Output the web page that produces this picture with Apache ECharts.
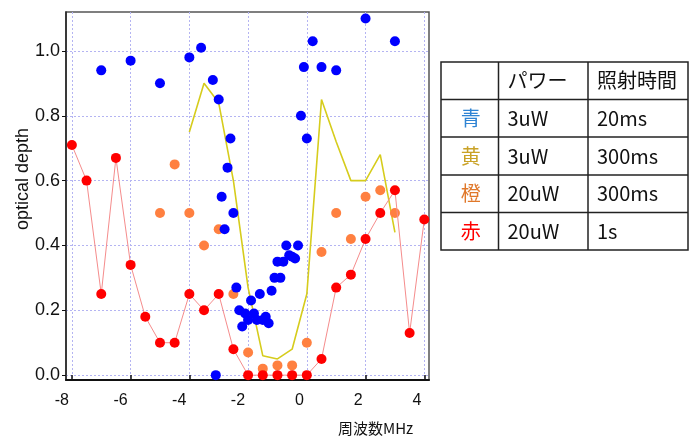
<!DOCTYPE html>
<html>
<head>
<meta charset="utf-8">
<script src="https://cdn.jsdelivr.net/npm/echarts@6/dist/echarts.min.js"></script>
<style>
  html, body { margin: 0; padding: 0; background: #fff; }
  #chart { width: 689px; height: 436px; }
</style>
</head>
<body>
<div id="chart"></div>
<script>
// Frequency offset (MHz) and optical depth for each measurement condition
const blueFreq = [-7.0, -6.0, -5.0, -4.0, -3.6, -3.2, -3.0, -2.9, -2.7, -2.6, -2.5, -2.8, -2.4, -2.3, -2.2, -2.1, -2.0, -1.9, -1.8, -1.7, -1.6, -1.5, -1.4, -1.3, -1.2, -1.1, -1.0, -0.9, -0.8, -0.7, -0.6, -0.5, -0.4, -0.3, -0.2, -0.1, 0.0, 0.2, 0.5, 1.0, 2.0, 3.0, -3.1];
const blueOD   = [0.94, 0.97, 0.90, 0.98, 1.01, 0.91, 0.85, 0.55, 0.64, 0.73, 0.50, 0.45, 0.27, 0.20, 0.15, 0.19, 0.17, 0.23, 0.19, 0.17, 0.25, 0.17, 0.18, 0.16, 0.26, 0.30, 0.35, 0.30, 0.35, 0.40, 0.37, 0.365, 0.36, 0.40, 0.80, 0.95, 0.73, 1.03, 0.95, 0.94, 1.10, 1.03, 0.0];

const yellowFreq = [-4.0, -3.5, -3.0, -2.5, -2.0, -1.5, -1.0, -0.5, 0.0, 0.5, 1.0, 1.5, 2.0, 2.5, 3.0];
const yellowOD   = [0.75, 0.90, 0.84, 0.60, 0.27, 0.06, 0.05, 0.08, 0.25, 0.85, 0.72, 0.60, 0.60, 0.68, 0.44];

const orangeFreq = [-5.0, -4.5, -4.0, -3.5, -3.0, -2.5, -2.0, -1.5, -1.0, -0.5, 0.0, 0.5, 1.0, 1.5, 2.0, 2.5, 3.0];
const orangeOD   = [0.50, 0.65, 0.50, 0.40, 0.45, 0.25, 0.07, 0.02, 0.03, 0.03, 0.10, 0.38, 0.50, 0.42, 0.55, 0.57, 0.50];

const redFreq = [-8.0, -7.5, -7.0, -6.5, -6.0, -5.5, -5.0, -4.5, -4.0, -3.5, -3.0, -2.5, -2.0, -1.5, -1.0, -0.5, 0.0, 0.5, 1.0, 1.5, 2.0, 2.5, 3.0, 3.5, 4.0];
const redOD   = [0.71, 0.60, 0.25, 0.67, 0.34, 0.18, 0.10, 0.10, 0.25, 0.20, 0.25, 0.08, 0.0, 0.0, 0.0, 0.0, 0.0, 0.05, 0.27, 0.31, 0.42, 0.50, 0.57, 0.13, 0.48];

// Axis ticks
const xTicks = [-8, -6, -4, -2, 0, 2, 4];
const yTicks = [0.0, 0.2, 0.4, 0.6, 0.8, 1.0];

// Condition table
const tableHeader = ['', 'パワー', '照射時間'];
const condNames  = ['青', '黄', '橙', '赤'];
const condColors = ['#2f84d4', '#c9a227', '#e0782a', '#ff0000'];
const condPower  = ['3uW', '3uW', '20uW', '20uW'];
const condTime   = ['20ms', '300ms', '300ms', '1s'];

const zip = (xs, ys) => xs.map((x, i) => [x, ys[i]]);

// Table geometry
const colX = [441, 498.5, 588, 688];
const rowY = [62, 99.5, 137, 175, 212.5, 250];
const tableFont = '"Noto Sans CJK JP", "Noto Sans", sans-serif';

const graphics = [];
graphics.push({
  type: 'rect', shape: { x: colX[0], y: rowY[0], width: colX[3] - colX[0], height: rowY[5] - rowY[0] },
  style: { fill: '#fff', stroke: '#222', lineWidth: 1.5 }, z: 10
});
for (let i = 1; i < rowY.length - 1; i++) {
  graphics.push({ type: 'line', shape: { x1: colX[0], y1: rowY[i], x2: colX[3], y2: rowY[i] },
    style: { stroke: '#222', lineWidth: 1.5 }, z: 11 });
}
for (let j = 1; j < colX.length - 1; j++) {
  graphics.push({ type: 'line', shape: { x1: colX[j], y1: rowY[0], x2: colX[j], y2: rowY[5] },
    style: { stroke: '#222', lineWidth: 1.5 }, z: 11 });
}
const cellText = (txt, x, y, color, align) => ({
  type: 'text', x: x, y: y, z: 12,
  style: { text: txt, fill: color, font: '20px ' + tableFont, align: align, verticalAlign: 'middle' }
});
graphics.push(cellText(tableHeader[1], colX[1] + 9, (rowY[0] + rowY[1]) / 2, '#111', 'left'));
graphics.push(cellText(tableHeader[2], colX[2] + 9, (rowY[0] + rowY[1]) / 2, '#111', 'left'));
condNames.forEach((n, i) => {
  const cy = (rowY[i + 1] + rowY[i + 2]) / 2;
  graphics.push(cellText(n, (colX[0] + colX[1]) / 2 + 1, cy, condColors[i], 'center'));
  graphics.push(cellText(condPower[i], colX[1] + 9, cy, '#111', 'left'));
  graphics.push(cellText(condTime[i], colX[2] + 9, cy, '#111', 'left'));
});

// Axis titles
graphics.push({
  type: 'text', x: 23, y: 179, rotation: Math.PI / 2, z: 12,
  style: { text: 'optical depth', fill: '#111', font: '18px "Liberation Sans", Arial, sans-serif', align: 'center', verticalAlign: 'middle' }
});
graphics.push({
  type: 'text', x: 338, y: 428, z: 12,
  style: { text: '周波数MHz', fill: '#111', font: '15px "Noto Sans CJK JP", sans-serif', align: 'left', verticalAlign: 'middle' }
});

const chart = echarts.init(document.getElementById('chart'), null, { renderer: 'canvas' });
chart.setOption({
  animation: false,
  backgroundColor: '#fff',
  grid: { left: 66, top: 12, right: 260, bottom: 56, show: true, borderColor: '#555', borderWidth: 1.5, backgroundColor: 'transparent' },
  xAxis: {
    type: 'value', min: -8.2, max: 4.16,
    axisLine: { show: true, onZero: false, lineStyle: { color: '#111', width: 2 } },
    axisTick: { show: true, inside: true, length: 5, customValues: xTicks, lineStyle: { color: '#111', width: 1.5 } },
    axisLabel: { customValues: xTicks, margin: 13, align: 'right', padding: [0, 3, 0, 0],
      color: '#111', fontSize: 16, fontFamily: '"Liberation Sans", Arial, sans-serif' },
    splitLine: { show: true, lineStyle: { color: '#b4b4f2', type: [2, 2], width: 1 } }
  },
  yAxis: {
    type: 'value', min: -0.015, max: 1.12,
    axisLine: { show: true, onZero: false, lineStyle: { color: '#222', width: 1.5 } },
    axisTick: { show: true, inside: false, length: 4, customValues: yTicks, lineStyle: { color: '#111' } },
    axisLabel: { customValues: yTicks, margin: 6, color: '#111', fontSize: 18,
      fontFamily: '"Liberation Sans", Arial, sans-serif', formatter: v => v.toFixed(1) },
    splitLine: { show: true, lineStyle: { color: '#b4b4f2', type: [2, 2], width: 1 } }
  },
  series: [
    { name: '黄', type: 'line', data: zip(yellowFreq, yellowOD), showSymbol: false, symbol: 'none',
      lineStyle: { color: '#d6cc1c', width: 1.6 }, z: 2 },
    { name: '橙', type: 'scatter', data: zip(orangeFreq, orangeOD), symbolSize: 10,
      itemStyle: { color: '#ff8040', opacity: 1 }, z: 3 },
    { name: '赤', type: 'line', data: zip(redFreq, redOD), symbol: 'circle', symbolSize: 10, showAllSymbol: true,
      lineStyle: { color: '#f58c8c', width: 1 }, itemStyle: { color: '#ff0000', borderWidth: 0 }, z: 4 },
    { name: '青', type: 'scatter', data: zip(blueFreq, blueOD), symbolSize: 10,
      itemStyle: { color: '#0000ff', opacity: 1 }, z: 5 }
  ],
  graphic: graphics
});
</script>
</body>
</html>
